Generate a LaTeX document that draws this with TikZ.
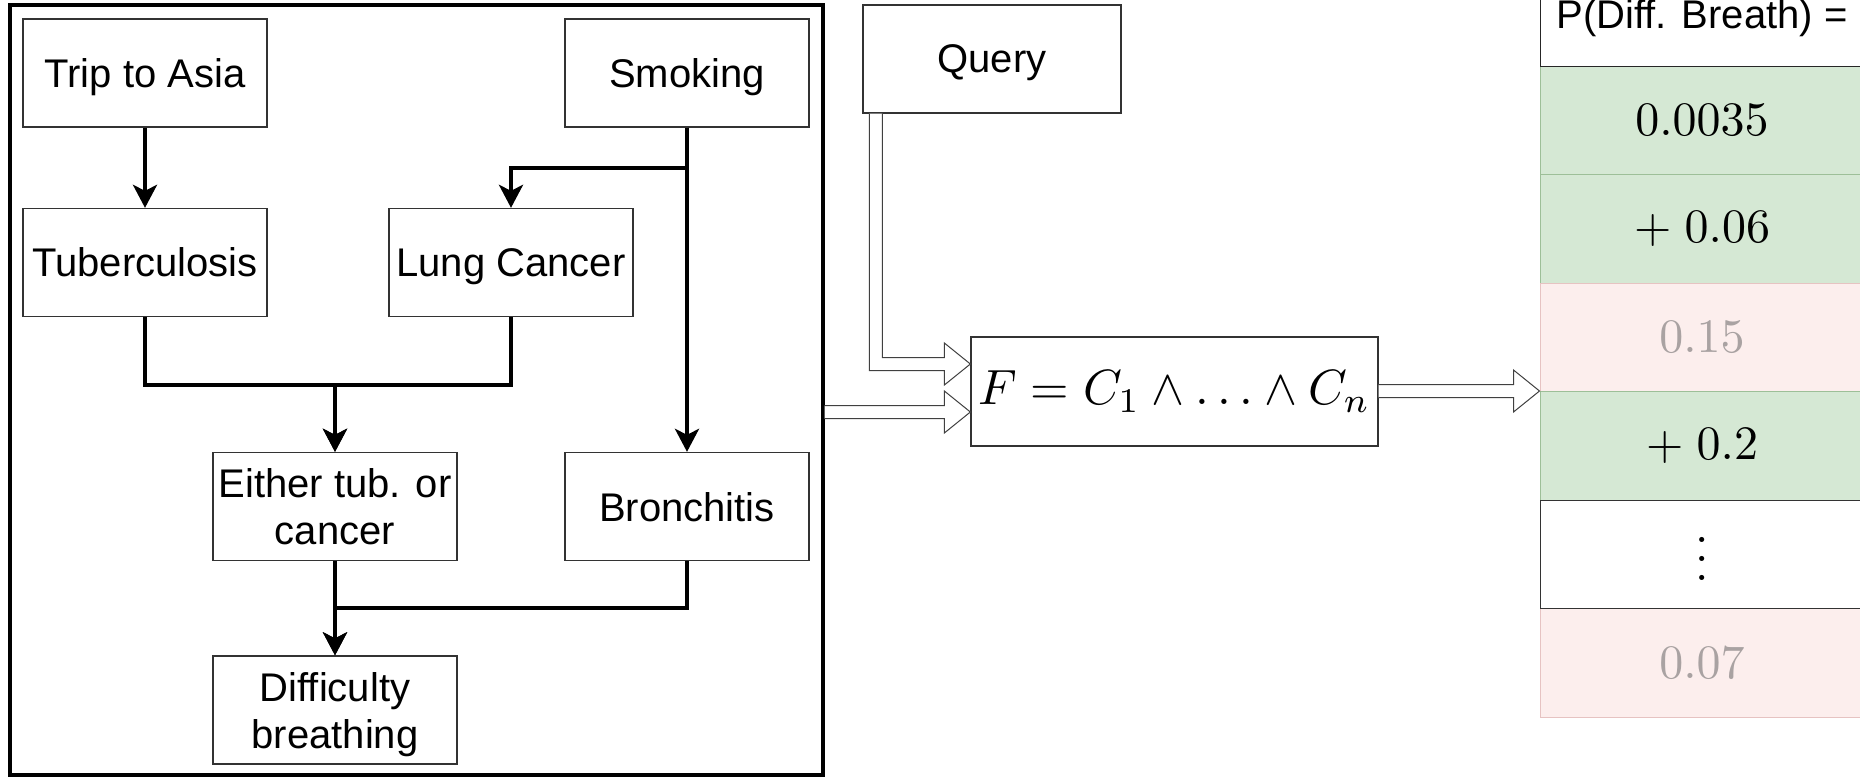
\documentclass[tikz,border=0pt]{standalone}
\usepackage{graphicx}
\usepackage[no-math]{fontspec}
\newfontfamily\arialfont{Liberation Sans}
\usetikzlibrary{arrows.meta,calc}
\definecolor{gfill}{HTML}{D5E8D4}
\definecolor{gline}{HTML}{9DBF98}
\definecolor{pfill}{HTML}{FCEEED}
\definecolor{pline}{HTML}{E6C3C2}
\definecolor{ptext}{HTML}{A9A2A2}
\definecolor{bord}{HTML}{333333}
\newcommand{\bigmath}[2][4.8]{\scalebox{#1}{\fontsize{10}{12}\selectfont$#2$}}
\begin{document}
\begin{tikzpicture}[x=1pt,y=-1pt,
  box/.style={draw=bord, line width=1.3pt, fill=white, minimum width=244pt, minimum height=108pt,
    inner sep=2pt, align=center, text depth=0pt, font=\arialfont\fontsize{40}{47}\selectfont},
  outerbox/.style={draw=black, line width=3.3pt, minimum width=813pt, minimum height=770pt, inner sep=0pt},
  conn/.style={line width=4pt, -{Stealth[length=23pt,width=24pt,inset=6pt]}},
  flex/.style={draw=black!75, fill=white, line width=1pt, line join=miter},
  tcell/.style={minimum width=324pt, minimum height=108.5pt, line width=1pt, inner sep=0pt},
  greencell/.style={tcell, fill=gfill, draw=gline},
  pinkcell/.style={tcell, fill=pfill, draw=pline, text=ptext}
]
\useasboundingbox (0,0) rectangle (1860,777);

% left network
\node[outerbox] (outer) at (416.5,390) {};
\node[box] (trip) at (145,73) {Trip to Asia};
\node[box] (smoke) at (687,73) {Smoking};
\node[box] (tub) at (145,262.5) {Tuberculosis};
\node[box] (lung) at (511,262.5) {Lung Cancer};
\node[box] (either) at (335,506.5) {Either tub. or\\cancer};
\node[box] (bron) at (687,506.5) {Bronchitis};
\node[box] (diff) at (335,710) {Difficulty\\breathing};

\draw[conn] (trip) -- (tub);
\coordinate (j1) at ($(smoke.south)!0.5!(lung.north)$);
\draw[conn] (smoke.south) |- (j1) -| (lung.north);
\draw[conn] (smoke) -- (bron);
\draw[conn] (tub.south) -- ++(0,67.5) -| (either.north);
\draw[conn] (lung.south) -- ++(0,67.5) -| (either.north);
\draw[conn] (either) -- (diff);
\draw[conn] (bron.south) -- ++(0,47) -| (diff.north);

% query and formula
\node[box, minimum width=258pt] (query) at (992,59) {Query};
\node[box, text depth=, minimum width=407pt, minimum height=109pt] (F) at (1174.5,391.5) {\bigmath[4.95]{F = C_1 \wedge \ldots \wedge C_n}};

% table
\node[greencell] (r1) at (1702,120.25) {\bigmath{0.0035}};
\node[greencell] (r2) at (1702,228.75) {\bigmath{+\;0.06}};
\node[pinkcell] (r3) at (1702,337.25) {\bigmath{0.15}};
\node[greencell] (r4) at (1702,445.75) {\bigmath{+\;0.2}};
\node[pinkcell] (r6) at (1702,662.75) {\bigmath{0.07}};
\node[tcell, fill=white, draw=black!80] (r5) at (1702,554.25) {\scalebox{4.8}{\fontsize{10}{12}\selectfont\raisebox{0pt}[11pt][0pt]{$\vdots$}}};
\node[tcell, fill=white, draw=black!85, minimum height=104pt, text depth=0pt, font=\arialfont\fontsize{40}{48}\selectfont] (hdr) at (1702,14) {P(Diff. Breath) =};

% flex arrows
\coordinate (ta) at ($(F.west)+(0,20.5)$);
\coordinate (tb) at ($(F.west)+(0,-27.5)$);
\coordinate (qs) at ($(query.south west)+(13.5,0)$);
\draw[flex] let \p1=(outer.east), \p2=(ta) in
  (\x1,\y2+6.5pt) -- (\x2-26pt,\y2+6.5pt) -- (\x2-26pt,\y2+21pt) -- (\x2,\y2)
  -- (\x2-26pt,\y2-21pt) -- (\x2-26pt,\y2-6.5pt) -- (\x1,\y2-6.5pt);
\draw[flex] let \p1=(qs), \p2=(tb) in
  (\x1-6.5pt,\y1) -- (\x1-6.5pt,\y2-6.5pt) -- (\x2-26pt,\y2-6.5pt) -- (\x2-26pt,\y2-21pt)
  -- (\x2,\y2) -- (\x2-26pt,\y2+21pt) -- (\x2-26pt,\y2+6.5pt) -- (\x1+6.5pt,\y2+6.5pt) -- (\x1+6.5pt,\y1);
\draw[flex] let \p1=(F.east), \p2=(r4.north west) in
  (\x1,\y2+6.5pt) -- (\x2-26pt,\y2+6.5pt) -- (\x2-26pt,\y2+21pt) -- (\x2,\y2)
  -- (\x2-26pt,\y2-21pt) -- (\x2-26pt,\y2-6.5pt) -- (\x1,\y2-6.5pt);
\end{tikzpicture}
\end{document}
